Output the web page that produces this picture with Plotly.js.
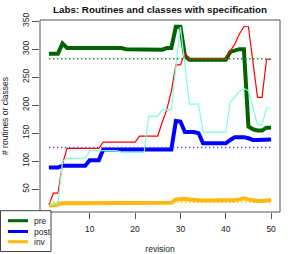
<!DOCTYPE html>
<html>
<head>
<meta charset="utf-8">
<script src="https://cdn.plot.ly/plotly-3.0.1.min.js"></script>
<style>html,body{margin:0;padding:0;background:#fff;}#chart{width:294px;height:254px;}</style>
</head>
<body>
<div id="chart"></div>
<script>
const revision = [1,2,3,4,5,6,7,8,9,10,11,12,13,14,15,16,17,18,19,20,21,22,23,24,25,26,27,28,29,30,31,32,33,34,35,36,37,38,39,40,41,42,43,44,45,46,47,48,49,50];
const pre  = [292,292,292,310,302,302,302,302,302,302,302,302,302,302,302,302,302,300,300,300,300,300,300,300,300,299,302,302,340,340,288,281,281,281,281,281,281,281,281,281,295,298,300,300,162,157,155,155,160,160];
const post = [89,89,89,92,92,92,92,92,92,102,102,102,121,121,121,121,121,121,121,121,121,121,121,121,121,121,121,121,172,171,152,152,152,150,132,132,132,132,132,132,138,143,143,143,141,138,138,138,139,139];
const inv  = [21,21,23,25,25,25,25,25,25,25,25,25,25,25,25,25,25,25,25,26,26,26,26,26,26,26,26,26,32,33,33,32,31,30,30,30,30,30,30,30,31,31,32,34,32,30,29,29,30,31];
const otherRed  = [22,43,43,95,123,123,123,123,123,123,123,123,134,134,134,134,134,134,134,134,145,145,145,145,145,170,192,225,272,272,293,282,282,282,282,282,282,282,282,282,297,309,327,340,340,279,214,214,282,282];
const otherAqua = [22,24,24,100,105,105,105,105,105,119,119,119,119,119,119,119,116,116,116,116,116,116,180,180,180,192,192,192,269,340,271,202,202,202,152,152,152,152,152,152,206,215,224,230,226,196,165,165,195,195];
const refPre = 283, refPost = 124.5, refInv = 27;
const refSpan = [1, 50];
const legendNames = ['pre', 'post', 'inv'];
const xTicks = [10, 20, 30, 40, 50];
const yTicks = [50, 100, 150, 200, 250, 300, 350];

const cGreen = '#006400', cBlue = '#0000FF', cGold = '#FFB90F';
const cRed = '#FF0000', cAqua = '#7FFFD4';
const cGreenDot = '#2E8B2E', cBlueDot = '#5555FF', cGoldDot = '#FFB90F';
const legendColors = [cGreen, cBlue, cGold];

const traces = [
  {x: revision, y: pre,  mode: 'lines', line: {color: cGreen, width: 4}, name: 'pre'},
  {x: revision, y: post, mode: 'lines', line: {color: cBlue, width: 4}, name: 'post'},
  {x: revision, y: inv,  mode: 'lines', line: {color: cGold, width: 4}, name: 'inv'},
  {x: revision, y: otherRed,  mode: 'lines', line: {color: cRed, width: 1.2}},
  {x: revision, y: otherAqua, mode: 'lines', line: {color: cAqua, width: 1.2}},
  {x: refSpan, y: [refPre, refPre],   mode: 'lines', line: {color: cGreenDot, width: 1.5, dash: '1.5px,2.5px'}},
  {x: refSpan, y: [refPost, refPost], mode: 'lines', line: {color: cBlueDot, width: 1.5, dash: '1.5px,2.5px'}},
  {x: refSpan, y: [refInv, refInv],   mode: 'lines', line: {color: cGoldDot, width: 1.5, dash: '1.5px,2.5px'}}
];

const W = 294, H = 254, mL = 40, mR = 14, mT = 20, mB = 42;
const pw = W - mL - mR, ph = H - mT - mB;
const px = v => (v - mL) / pw;
const py = v => (H - mB - v) / ph;

const shapes = [
  {type: 'rect', xref: 'paper', yref: 'paper', x0: 0, x1: 1, y0: 0, y1: 1, line: {color: '#555', width: 1}},
  {type: 'rect', xref: 'paper', yref: 'paper', x0: px(0.5), x1: px(51), y0: py(210.7), y1: py(251.5), line: {color: '#444', width: 1}, fillcolor: '#fff'}
];
const annotations = [];
const rowsY = [220.7, 231.5, 241.7];
legendNames.forEach((n, i) => {
  shapes.push({type: 'line', xref: 'paper', yref: 'paper', x0: px(8), x1: px(28), y0: py(rowsY[i]), y1: py(rowsY[i]), line: {color: legendColors[i], width: 3}});
  annotations.push({xref: 'paper', yref: 'paper', x: px(32), y: py(rowsY[i]), xanchor: 'left', yanchor: 'middle', text: n, showarrow: false, font: {size: 8.5, color: '#222'}});
});

const fnt = 'Liberation Sans, Arial, Helvetica, sans-serif';
const layout = {
  width: W, height: H,
  margin: {l: mL, r: mR, t: mT, b: mB, pad: 0},
  paper_bgcolor: '#fff', plot_bgcolor: '#fff',
  font: {family: fnt, size: 8.5, color: '#222'},
  showlegend: false,
  title: {text: '<b>Labs: Routines and classes with specification</b>', font: {family: fnt, size: 9.8, color: '#111'}, xref: 'paper', x: 0.5, xanchor: 'center', yref: 'container', y: 1 - 10/H, yanchor: 'middle'},
  xaxis: {range: [-0.96, 51.96], tickvals: xTicks, ticktext: xTicks.map(String), ticks: 'outside', ticklen: 6, tickcolor: '#555', tickwidth: 1,
          showgrid: false, zeroline: false, showline: false, tickfont: {size: 8.5, color: '#222'}, ticklabelstandoff: 3,
          title: {text: 'revision', font: {size: 8.5, color: '#222'}, standoff: 13}},
  yaxis: {range: [9.5, 352], tickvals: yTicks, ticktext: yTicks.map(String), ticks: 'outside', ticklen: 7, tickcolor: '#555', tickwidth: 1, tickangle: -90,
          showgrid: false, zeroline: false, showline: false, tickfont: {size: 8.5, color: '#222'},
          title: {text: '# routines or classes', font: {size: 8.5, color: '#222'}, standoff: 11}},
  shapes: shapes,
  annotations: annotations
};

Plotly.newPlot('chart', traces, layout, {staticPlot: true, displayModeBar: false});
</script>
</body>
</html>
